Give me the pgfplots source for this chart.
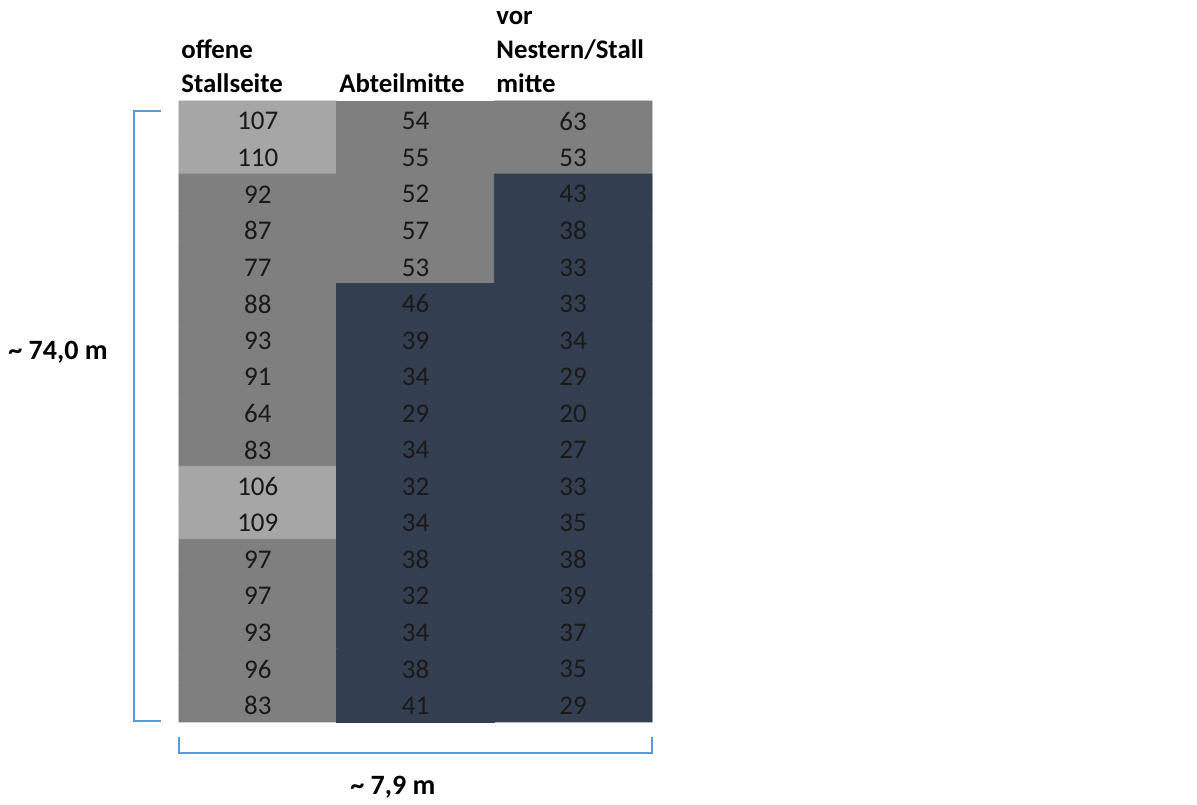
\documentclass[border=0pt]{standalone}
\usepackage{fontspec}
\setmainfont{Carlito}
\usepackage{pgfplots}
\usepackage{pgfplotstable}
\pgfplotsset{compat=1.18}
\definecolor{cdark}{RGB}{51,63,80}
\definecolor{cmid}{RGB}{127,127,127}
\definecolor{clight}{RGB}{166,166,166}
\definecolor{brk}{RGB}{91,155,213}
\pgfplotstableread{
x y c v
0.5 16.5 2 107
1.5 16.5 1 54
2.5 16.5 1 63
0.5 15.5 2 110
1.5 15.5 1 55
2.5 15.5 1 53
0.5 14.5 1 92
1.5 14.5 1 52
2.5 14.5 0 43
0.5 13.5 1 87
1.5 13.5 1 57
2.5 13.5 0 38
0.5 12.5 1 77
1.5 12.5 1 53
2.5 12.5 0 33
0.5 11.5 1 88
1.5 11.5 0 46
2.5 11.5 0 33
0.5 10.5 1 93
1.5 10.5 0 39
2.5 10.5 0 34
0.5 9.5 1 91
1.5 9.5 0 34
2.5 9.5 0 29
0.5 8.5 1 64
1.5 8.5 0 29
2.5 8.5 0 20
0.5 7.5 1 83
1.5 7.5 0 34
2.5 7.5 0 27
0.5 6.5 2 106
1.5 6.5 0 32
2.5 6.5 0 33
0.5 5.5 2 109
1.5 5.5 0 34
2.5 5.5 0 35
0.5 4.5 1 97
1.5 4.5 0 38
2.5 4.5 0 38
0.5 3.5 1 97
1.5 3.5 0 32
2.5 3.5 0 39
0.5 2.5 1 93
1.5 2.5 0 34
2.5 2.5 0 37
0.5 1.5 1 96
1.5 1.5 0 38
2.5 1.5 0 35
0.5 0.5 1 83
1.5 0.5 0 41
2.5 0.5 0 29
}\cells
\begin{document}
\begin{tikzpicture}
\begin{axis}[
  scale only axis, width=236.5pt, height=310.5pt,
  xmin=0, xmax=3, ymin=0, ymax=17,
  axis lines=none, clip=false,
  colormap={cls}{rgb255=(51,63,80) rgb255=(127,127,127) rgb255=(166,166,166)},
  colormap access=direct,
]
% background regions (same classes as the cells, to hide seams)
\addplot[fill=cmid, draw=none] coordinates {(0,0) (3,0) (3,17) (0,17)} -- cycle;
\addplot[fill=cdark, draw=none] coordinates {(1,0) (3,0) (3,15) (2,15) (2,12) (1,12)} -- cycle;
\addplot[fill=clight, draw=none] coordinates {(0,15) (1,15) (1,17) (0,17)} -- cycle;
\addplot[fill=clight, draw=none] coordinates {(0,5) (1,5) (1,7) (0,7)} -- cycle;
\addplot[matrix plot*, mesh/cols=3, point meta=explicit] table[x=x, y=y, meta=c] {\cells};
\addplot[only marks, mark=*, mark size=0pt, point meta=explicit symbolic,
  nodes near coords, nodes near coords align={center},
  every node near coord/.append style={anchor=center, yshift=-1pt, text=black!90, font=\fontsize{13.5}{16}\selectfont}]
  table[x=x, y=y, meta=v] {\cells};
% brackets
\draw[brk, line width=0.8pt] (axis cs:-0.1142,16.726) -- (axis cs:-0.2854,16.726) -- (axis cs:-0.2854,0.027) -- (axis cs:-0.1142,0.027);
\draw[brk, line width=0.8pt] (axis cs:0,-0.4106) -- (axis cs:0,-0.8486) -- (axis cs:3,-0.8486) -- (axis cs:3,-0.4106);
\node[font=\bfseries\fontsize{14}{16}\selectfont] at (axis cs:-0.7674,10.129) {\textasciitilde{} 74,0 m};
\node[font=\bfseries\fontsize{14}{16}\selectfont] at (axis cs:1.357,-1.779) {\textasciitilde{} 7,9 m};
% headers
\tikzset{hd/.style={anchor=base west, inner sep=0pt, font=\bfseries\fontsize{13.4}{15}\selectfont}}
\node[hd] at (axis cs:0.0127,18.15) {offene};
\node[hd] at (axis cs:0.0127,17.219) {Stallseite};
\node[hd] at (axis cs:1.0148,17.219) {Abteilmitte};
\node[hd] at (axis cs:2.0105,19.08) {vor};
\node[hd] at (axis cs:2.0105,18.15) {Nestern/Stall};
\node[hd] at (axis cs:2.0105,17.219) {mitte};
\path (axis cs:-1.1353,-2.1626) rectangle (axis cs:6.4566,19.7646);
\end{axis}
\end{tikzpicture}
\end{document}
